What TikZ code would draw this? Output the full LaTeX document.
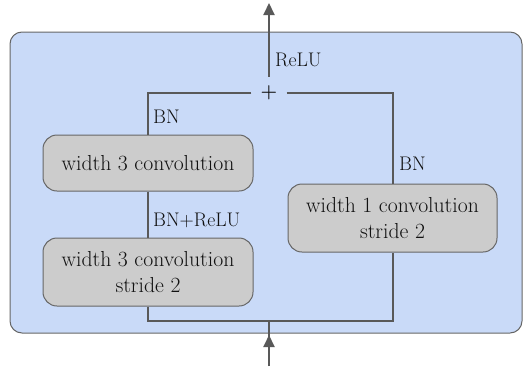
\documentclass[tikz,border=0pt]{standalone}
\usetikzlibrary{arrows.meta}
\definecolor{bgblue}{HTML}{C9DAF8}
\definecolor{edge}{HTML}{666666}
\definecolor{linegray}{HTML}{595959}
\definecolor{boxgray}{HTML}{CCCCCC}
\definecolor{txt}{HTML}{111111}
\begin{document}
\begin{tikzpicture}[x=1pt,y=-1pt,
  convbox/.style={draw=edge,line width=1pt,fill=boxgray,rounded corners=14pt,
    minimum width=210pt,align=center,inner sep=0pt,text=txt,
    font=\fontsize{21.7}{26}\selectfont},
  conn/.style={draw=linegray,line width=2pt},
  tip/.style={-{Triangle[length=12pt,width=11pt]}},
  lbl/.style={anchor=west,inner sep=0pt,text=txt,font=\fontsize{19.7}{22}\selectfont}]
\useasboundingbox (0,0) rectangle (526,367);
\node[draw=edge,line width=1pt,fill=bgblue,rounded corners=12pt,minimum width=512pt,minimum height=301pt,inner sep=0pt] (bg) at (266,182.5) {};
\node[convbox,minimum height=56pt] (b1) at (148,163) {width 3 convolution};
\node[convbox,minimum height=68pt] (b2) at (148,272) {width 3 convolution\\stride 2};
\node[convbox,minimum width=209pt,minimum height=68pt] (b3) at (392.5,218) {width 1 convolution\\stride 2};
\node[minimum width=35pt,minimum height=32pt,inner sep=0pt,text=txt,font=\bfseries\fontsize{19}{21}\selectfont] (plus) at (269,93) {+};
\coordinate (out) at (269,3);
\coordinate (j) at (269,321);
\coordinate (in) at (269,366);
\coordinate (intip) at (269,335);
\draw[conn] (plus.west) -| (b1.north);
\draw[conn] (plus.east) -| (b3.north);
\draw[conn] (b1.south) -- (b2.north);
\draw[conn] (b2.south) |- (j) -| (b3.south);
\draw[conn,tip] (plus.north) -- (out);
\draw[conn] (in) -- (j);
\draw[conn,tip] (in) -- (intip);
\node[lbl] (l1) at (275,60) {ReLU};
\node[lbl] (l2) at (153,117) {BN};
\node[lbl] (l3) at (399,164) {BN};
\node[lbl] (l4) at (153,220) {BN+ReLU};
\end{tikzpicture}
\end{document}
